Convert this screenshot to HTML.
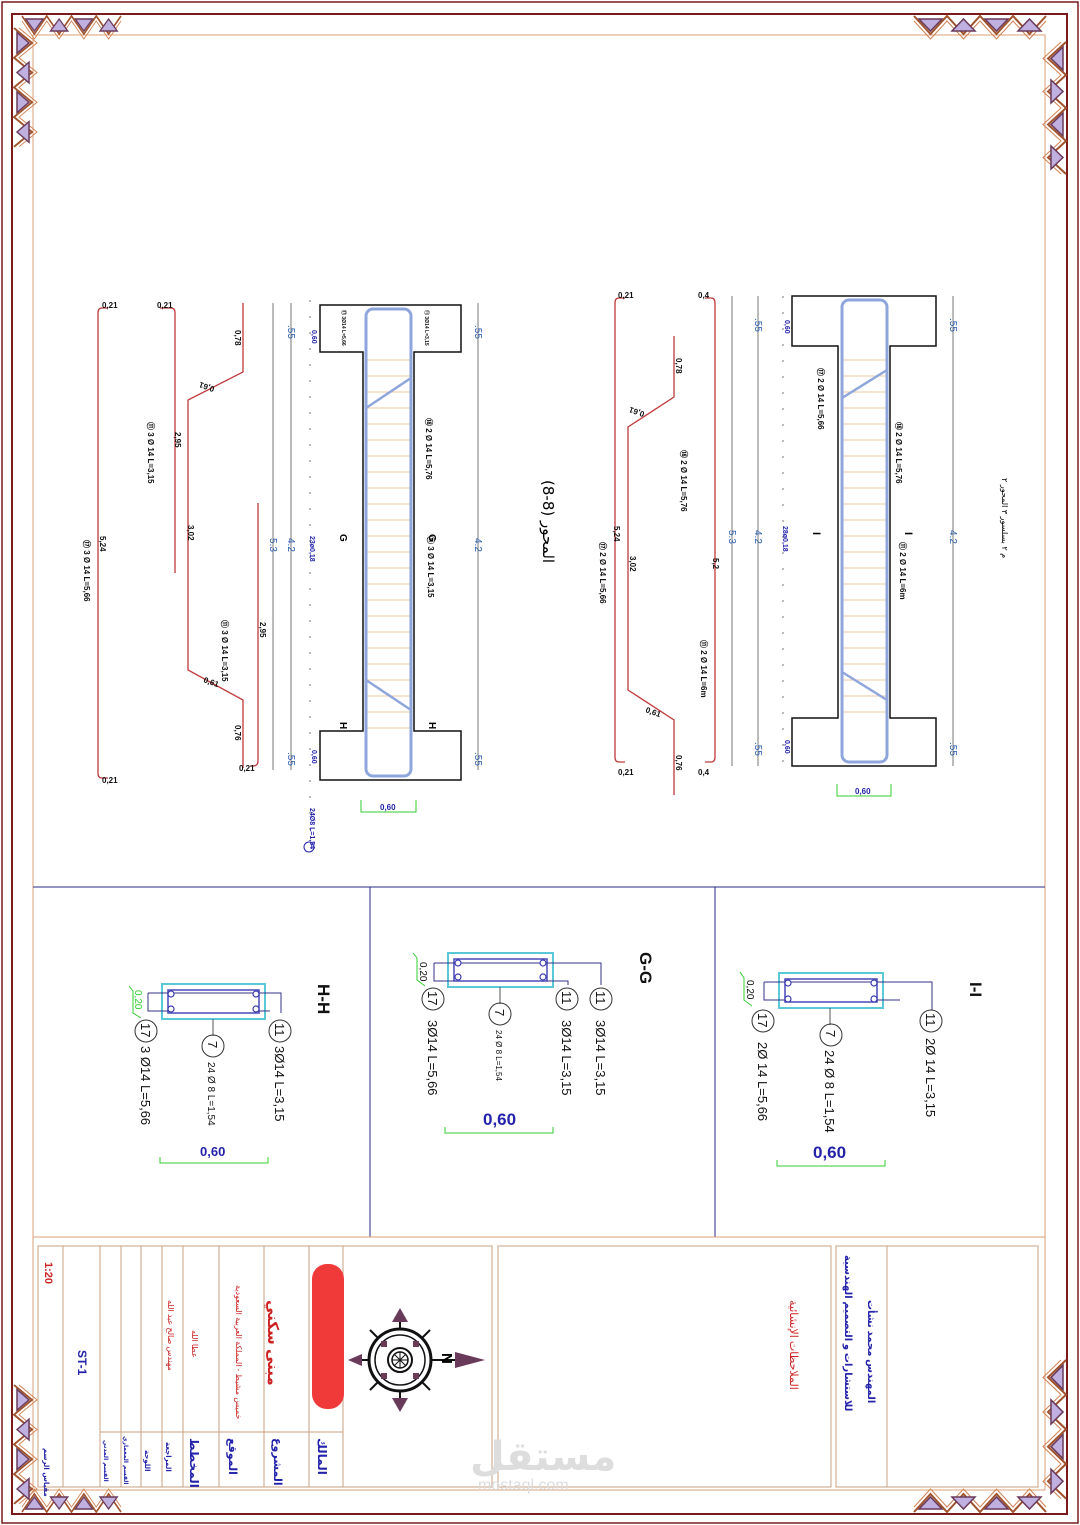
<!DOCTYPE html>
<html><head><meta charset="utf-8"><style>
html,body{margin:0;padding:0;background:#fff;}
svg{display:block;}
text{font-family:"Liberation Sans","DejaVu Sans",sans-serif;}
.ar{font-family:"DejaVu Sans","Liberation Sans",sans-serif;}
</style></head><body>
<svg width="1080" height="1525" viewBox="0 0 1080 1525" xmlns="http://www.w3.org/2000/svg">
<defs>
<pattern id="stir" width="60" height="16" patternUnits="userSpaceOnUse">
<line x1="0" y1="8" x2="60" y2="8" stroke="#e8c9a0" stroke-width="1"/>
</pattern>
<g id="hrow">
<polyline points="0,0 16.5,18 33,0 49.5,18 66,0 82.5,18 99,0 115.5,18 132,0" fill="none" stroke="#a0522d" stroke-width="2"/>
<polyline points="0,5 16.5,23 33,5 49.5,23 66,5 82.5,23 99,5 115.5,23 132,5" fill="none" stroke="#d08050" stroke-width="1"/>
<polygon points="5,3 28,3 16.5,15" fill="#c0b0e0" stroke="#6a3a5a" stroke-width="1.5"/>
<polygon points="38,15 61,15 49.5,3" fill="#c0b0e0" stroke="#6a3a5a" stroke-width="1.5"/>
<polygon points="71,3 94,3 82.5,15" fill="#c0b0e0" stroke="#6a3a5a" stroke-width="1.5"/>
<polygon points="104,15 127,15 115.5,3" fill="#c0b0e0" stroke="#6a3a5a" stroke-width="1.5"/>
</g>
</defs>
<!-- frame -->
<rect x="2" y="2" width="1076" height="1521" fill="none" stroke="#7a1a1a" stroke-width="1.5"/>
<rect x="12" y="14" width="1055" height="1500" fill="none" stroke="#7a1a1a" stroke-width="2"/>
<rect x="33" y="35" width="1012" height="1455" fill="none" stroke="#d9a27a" stroke-width="1"/>
<!-- ornaments -->
<use href="#hrow" transform="translate(22,16) scale(0.75,1)"/>
<use href="#hrow" transform="translate(914,16)"/>
<use href="#hrow" transform="translate(14,28) rotate(90) scale(0.9,-1)"/>
<use href="#hrow" transform="translate(1066,42) rotate(90) scale(1,1)"/>
<use href="#hrow" transform="translate(914,1512) scale(1,-1)"/>
<use href="#hrow" transform="translate(22,1512) scale(0.75,-1)"/>
<use href="#hrow" transform="translate(1066,1360) rotate(90) scale(1.05,1)"/>
<use href="#hrow" transform="translate(14,1385) rotate(90) scale(0.9,-1)"/>
<!-- dividers -->
<line x1="33" y1="887" x2="1045" y2="887" stroke="#2a2a8a" stroke-width="1"/>
<line x1="370" y1="887" x2="370" y2="1237" stroke="#2a2a8a" stroke-width="1"/>
<line x1="715" y1="887" x2="715" y2="1237" stroke="#2a2a8a" stroke-width="1"/>
<line x1="33" y1="1237" x2="1045" y2="1237" stroke="#d9a27a" stroke-width="1"/>

<!-- ===== Right beam ===== -->
<path d="M792 296H936V346H890V718H936V766H792V718H838V346H792Z" fill="none" stroke="#111" stroke-width="1.5"/>
<rect x="841" y="346" width="46" height="372" fill="url(#stir)"/>
<rect x="842" y="300" width="45" height="462" rx="7" fill="none" stroke="#8fa6dc" stroke-width="3"/>
<line x1="842" y1="398" x2="887" y2="370" stroke="#8fa6dc" stroke-width="2.5"/>
<line x1="842" y1="672" x2="887" y2="700" stroke="#8fa6dc" stroke-width="2.5"/>
<line x1="732" y1="296" x2="732" y2="766" stroke="#777" stroke-width="1"/>
<line x1="758" y1="296" x2="758" y2="766" stroke="#777" stroke-width="1"/>
<line x1="783" y1="296" x2="783" y2="766" stroke="#777" stroke-width="1" stroke-dasharray="2 14"/>
<line x1="953" y1="296" x2="953" y2="766" stroke="#777" stroke-width="1"/>
<g fill="#2a5db0" font-size="10">
<text transform="translate(755,318) rotate(90)">.55</text>
<text transform="translate(755,530) rotate(90)">4.2</text>
<text transform="translate(755,742) rotate(90)">.55</text>
<text transform="translate(729,530) rotate(90)">5.3</text>
<text transform="translate(950,318) rotate(90)">.55</text>
<text transform="translate(950,530) rotate(90)">4.2</text>
<text transform="translate(950,742) rotate(90)">.55</text>
</g>
<g fill="#22a" font-size="7" font-weight="bold">
<text transform="translate(785,320) rotate(90)">0,60</text>
<text transform="translate(785,740) rotate(90)">0,60</text>
<text transform="translate(783,526) rotate(90)">28ø0,18</text>
</g>
<path d="M837 784V796H891V784" fill="none" stroke="#3c3" stroke-width="1"/>
<text x="855" y="794" font-size="8" fill="#22a" font-weight="bold">0,60</text>
<g fill="none" stroke="#c0393b" stroke-width="1.3">
<path d="M625 298H619Q615 298 615 303V757Q615 762 619 762H625"/>
<path d="M674 336V397L628 427V690L674 720V795"/>
<path d="M705 298H711Q715 298 715 303V757Q715 762 711 762H705"/>
</g>
<g font-size="8" font-weight="bold" fill="#111">
<text x="618" y="298">0,21</text><text x="618" y="775">0,21</text>
<text x="698" y="298">0,4</text><text x="698" y="775">0,4</text>
<text transform="translate(676,358) rotate(90)">0,78</text>
<text transform="translate(676,755) rotate(90)">0,76</text>
<text transform="translate(645,412) rotate(200)">0,61</text>
<text transform="translate(645,712) rotate(20)">0,61</text>
<text transform="translate(614,526) rotate(90)">5,24</text>
<text transform="translate(630,556) rotate(90)">3,02</text>
<text transform="translate(713,558) rotate(90)">5,2</text>
<text transform="translate(600,542) rotate(90)">⑰ 2 Ø 14 L=5,66</text>
<text transform="translate(681,450) rotate(90)">⑱ 2 Ø 14 L=5,76</text>
<text transform="translate(701,640) rotate(90)">⑪ 2 Ø 14 L=6m</text>
<text transform="translate(818,368) rotate(90)">⑰ 2 Ø 14 L=5,66</text>
<text transform="translate(896,422) rotate(90)">⑱ 2 Ø 14 L=5,76</text>
<text transform="translate(900,542) rotate(90)">⑪ 2 Ø 14 L=6m</text>
</g>
<text transform="translate(813,532) rotate(90)" font-size="11" font-weight="bold">I</text>
<text transform="translate(905,532) rotate(90)" font-size="11" font-weight="bold">I</text>
<text transform="translate(543,480) rotate(90)" font-size="15" class="ar">المحور (8-8)</text>
<text transform="translate(1002,478) rotate(90)" font-size="8" class="ar">م ٢ بسلسور ٣ المحور ٢</text>

<!-- ===== Left beam ===== -->
<path d="M320 305H461V352H414V731H461V780H320V731H363V352H320Z" fill="none" stroke="#111" stroke-width="1.5"/>
<rect x="366" y="352" width="46" height="379" fill="url(#stir)"/>
<rect x="366" y="309" width="45" height="467" rx="7" fill="none" stroke="#8fa6dc" stroke-width="3"/>
<line x1="366" y1="408" x2="411" y2="378" stroke="#8fa6dc" stroke-width="2.5"/>
<line x1="366" y1="680" x2="411" y2="710" stroke="#8fa6dc" stroke-width="2.5"/>
<line x1="273" y1="303" x2="273" y2="770" stroke="#777" stroke-width="1"/>
<line x1="291" y1="303" x2="291" y2="770" stroke="#777" stroke-width="1"/>
<line x1="310" y1="300" x2="310" y2="840" stroke="#777" stroke-width="1" stroke-dasharray="2 14"/>
<line x1="478" y1="303" x2="478" y2="770" stroke="#777" stroke-width="1"/>
<g fill="#2a5db0" font-size="10">
<text transform="translate(288,325) rotate(90)">.55</text>
<text transform="translate(288,538) rotate(90)">4.2</text>
<text transform="translate(288,752) rotate(90)">.55</text>
<text transform="translate(270,538) rotate(90)">5.3</text>
<text transform="translate(475,325) rotate(90)">.55</text>
<text transform="translate(475,538) rotate(90)">4.2</text>
<text transform="translate(475,752) rotate(90)">.55</text>
</g>
<g fill="#22a" font-size="7" font-weight="bold">
<text transform="translate(312,330) rotate(90)">0,60</text>
<text transform="translate(312,750) rotate(90)">0,60</text>
<text transform="translate(310,536) rotate(90)">23ø0,18</text>
<text transform="translate(310,808) rotate(90)">24Ø8 L=1,54</text>
</g>
<circle cx="309" cy="847" r="5" fill="none" stroke="#22a"/>
<path d="M361 800V812H416V800" fill="none" stroke="#3c3" stroke-width="1"/>
<text x="380" y="810" font-size="8" fill="#22a" font-weight="bold">0,60</text>
<g fill="none" stroke="#c0393b" stroke-width="1.3">
<path d="M108 308H102Q98 308 98 313V773Q98 778 102 778H108"/>
<path d="M160 308H171Q175 308 175 313V573"/>
<path d="M243 303V372L188 400V670L243 700V768"/>
<path d="M258 503V761Q258 766 253 766H250"/>
</g>
<g font-size="8" font-weight="bold" fill="#111">
<text x="102" y="308">0,21</text><text x="102" y="783">0,21</text>
<text x="157" y="308">0,21</text><text x="239" y="771">0,21</text>
<text transform="translate(235,330) rotate(90)">0,78</text>
<text transform="translate(235,725) rotate(90)">0,76</text>
<text transform="translate(215,387) rotate(200)">0,61</text>
<text transform="translate(203,682) rotate(20)">0,61</text>
<text transform="translate(175,432) rotate(90)">2,95</text>
<text transform="translate(260,622) rotate(90)">2,95</text>
<text transform="translate(100,536) rotate(90)">5,24</text>
<text transform="translate(188,525) rotate(90)">3,02</text>
<text transform="translate(84,540) rotate(90)">⑰ 3 Ø 14 L=5,66</text>
<text transform="translate(148,422) rotate(90)">⑪ 3 Ø 14 L=3,15</text>
<text transform="translate(222,620) rotate(90)">⑪ 3 Ø 14 L=3,15</text>
<text transform="translate(426,418) rotate(90)">⑱ 2 Ø 14 L=5,76</text>
<text transform="translate(428,536) rotate(90)">⑪ 3 Ø 14 L=3,15</text>
<text transform="translate(342,310) rotate(90)" font-size="5">⑰ 3Ø14 L=5,66</text>
<text transform="translate(425,310) rotate(90)" font-size="5">⑪ 3Ø14 L=3,15</text>
</g>
<g font-size="10" font-weight="bold">
<text transform="translate(340,534) rotate(90)">G</text>
<text transform="translate(429,534) rotate(90)">G</text>
<text transform="translate(340,722) rotate(90)">H</text>
<text transform="translate(429,722) rotate(90)">H</text>
</g>

<!-- ===== Sections ===== -->
<g font-size="13" fill="#111">
<rect x="779" y="973" width="104" height="35" fill="none" stroke="#5bc8d8" stroke-width="2"/>
<rect x="785" y="979" width="92" height="23" fill="none" stroke="#4848b8" stroke-width="1.5"/>
<path d="M764 982H932V1010M764 982V1000H790M877 982H900M877 1000H900" fill="none" stroke="#33338a"/>
<g fill="#fff" stroke="#3a3ab0" stroke-width="1.2"><circle cx="788" cy="983" r="3"/><circle cx="788" cy="999" r="3"/><circle cx="874" cy="983" r="3"/><circle cx="874" cy="999" r="3"/></g>
<line x1="830" y1="1008" x2="830" y2="1025" stroke="#555"/>
<circle cx="831" cy="1035" r="11" fill="none" stroke="#333"/><text transform="translate(826,1030) rotate(90)">7</text>
<circle cx="763" cy="1021" r="11" fill="none" stroke="#333"/><text transform="translate(758,1013) rotate(90)">17</text>
<circle cx="931" cy="1021" r="11" fill="none" stroke="#333"/><text transform="translate(926,1013) rotate(90)">11</text>
<text transform="translate(758,1042) rotate(90)">2Ø  14 L=5,66</text>
<text transform="translate(825,1050) rotate(90)">24 Ø 8 L=1,54</text>
<text transform="translate(926,1038) rotate(90)">2Ø 14 L=3,15</text>
<text transform="translate(747,980) rotate(90)" font-size="10">0,20</text>
<path d="M740 972L744 978V1000L752 1006" fill="none" stroke="#3c3"/>
<text transform="translate(970,982) rotate(90)" font-size="17" font-weight="bold">I-I</text>
<path d="M777 1160V1166H885V1160" fill="none" stroke="#3c3"/>
<text x="813" y="1158" font-size="17" font-weight="bold" fill="#22a">0,60</text>

<rect x="448" y="953" width="105" height="34" fill="none" stroke="#5bc8d8" stroke-width="2"/>
<rect x="454" y="959" width="93" height="22" fill="none" stroke="#4848b8" stroke-width="1.5"/>
<path d="M434 963H601V985M434 963V981H454M547 963H568M547 981H568V985" fill="none" stroke="#33338a"/>
<g fill="#fff" stroke="#3a3ab0" stroke-width="1.2"><circle cx="458" cy="963" r="3"/><circle cx="458" cy="977" r="3"/><circle cx="543" cy="963" r="3"/><circle cx="543" cy="977" r="3"/></g>
<line x1="500" y1="987" x2="500" y2="1004" stroke="#555"/>
<circle cx="500" cy="1014" r="11" fill="none" stroke="#333"/><text transform="translate(495,1009) rotate(90)">7</text>
<circle cx="433" cy="999" r="11" fill="none" stroke="#333"/><text transform="translate(428,991) rotate(90)">17</text>
<circle cx="567" cy="999" r="11" fill="none" stroke="#333"/><text transform="translate(562,991) rotate(90)">11</text>
<circle cx="601" cy="999" r="11" fill="none" stroke="#333"/><text transform="translate(596,991) rotate(90)">11</text>
<text transform="translate(428,1020) rotate(90)">3Ø14 L=5,66</text>
<text transform="translate(496,1030) rotate(90)" font-size="8">24 Ø 8 L=1,54</text>
<text transform="translate(562,1020) rotate(90)">3Ø14 L=3,15</text>
<text transform="translate(596,1020) rotate(90)">3Ø14 L=3,15</text>
<text transform="translate(420,962) rotate(90)" font-size="10">0,20</text>
<path d="M413 953L417 958V980L425 986" fill="none" stroke="#3c3"/>
<text transform="translate(640,952) rotate(90)" font-size="17" font-weight="bold">G-G</text>
<path d="M445 1127V1133H553V1127" fill="none" stroke="#3c3"/>
<text x="483" y="1125" font-size="17" font-weight="bold" fill="#22a">0,60</text>

<rect x="162" y="984" width="103" height="35" fill="none" stroke="#5bc8d8" stroke-width="2"/>
<rect x="168" y="990" width="91" height="23" fill="none" stroke="#4848b8" stroke-width="1.5"/>
<path d="M148 993H281V1013M148 993V1011H168M259 993H281M259 1011H270" fill="none" stroke="#33338a"/>
<g fill="#fff" stroke="#3a3ab0" stroke-width="1.2"><circle cx="171" cy="994" r="3"/><circle cx="171" cy="1009" r="3"/><circle cx="256" cy="994" r="3"/><circle cx="256" cy="1009" r="3"/></g>
<line x1="213" y1="1019" x2="213" y2="1036" stroke="#555"/>
<circle cx="213" cy="1046" r="11" fill="none" stroke="#333"/><text transform="translate(208,1041) rotate(90)">7</text>
<circle cx="146" cy="1031" r="11" fill="none" stroke="#333"/><text transform="translate(141,1023) rotate(90)">17</text>
<circle cx="280" cy="1031" r="11" fill="none" stroke="#333"/><text transform="translate(275,1023) rotate(90)">11</text>
<text transform="translate(141,1046) rotate(90)">3 Ø14 L=5,66</text>
<text transform="translate(208,1062) rotate(90)" font-size="10">24 Ø 8 L=1,54</text>
<text transform="translate(275,1046) rotate(90)">3Ø14 L=3,15</text>
<text transform="translate(135,990) rotate(90)" font-size="10" fill="#3c3">0,20</text>
<path d="M129 986L133 991V1013L141 1018" fill="none" stroke="#3c3"/>
<text transform="translate(318,984) rotate(90)" font-size="17" font-weight="bold">H-H</text>
<path d="M160 1157V1163H268V1157" fill="none" stroke="#3c3"/>
<text x="200" y="1156" font-size="13" font-weight="bold" fill="#22a">0,60</text>
</g>

<!-- ===== Title block ===== -->
<g fill="none" stroke="#c8a080" stroke-width="1">
<rect x="38" y="1246" width="454" height="241"/>
<line x1="63" y1="1246" x2="63" y2="1487"/>
<line x1="100" y1="1246" x2="100" y2="1487"/>
<line x1="121" y1="1246" x2="121" y2="1487"/>
<line x1="141" y1="1246" x2="141" y2="1487"/>
<line x1="162" y1="1246" x2="162" y2="1487"/>
<line x1="183" y1="1246" x2="183" y2="1487"/>
<line x1="219" y1="1246" x2="219" y2="1487"/>
<line x1="264" y1="1246" x2="264" y2="1487"/>
<line x1="309" y1="1246" x2="309" y2="1487"/>
<line x1="343" y1="1246" x2="343" y2="1487"/>
<line x1="100" y1="1432" x2="343" y2="1432"/>
<rect x="498" y="1246" width="333" height="241"/>
<rect x="836" y="1246" width="202" height="241"/>
<line x1="887" y1="1246" x2="887" y2="1487"/>
</g>
<rect x="312" y="1264" width="32" height="145" rx="15" fill="#f03a3a"/>
<g fill="#22a" font-weight="bold">
<text transform="translate(45,1262) rotate(90)" font-size="11" fill="#c22">1:20</text>
<text transform="translate(78,1350) rotate(90)" font-size="12">ST-1</text>
<text transform="translate(44,1448) rotate(90)" font-size="7" class="ar">مقياس الرسم</text>
<text transform="translate(104,1440) rotate(90)" font-size="6" class="ar">القسم المدني</text>
<text transform="translate(124,1436) rotate(90)" font-size="6" class="ar">القسم المعماري</text>
<text transform="translate(145,1450) rotate(90)" font-size="7" class="ar">اللوحة</text>
<text transform="translate(166,1442) rotate(90)" font-size="7" class="ar">المراجعة</text>
<text transform="translate(190,1438) rotate(90)" font-size="12" class="ar">المخطط</text>
<text transform="translate(229,1438) rotate(90)" font-size="11" class="ar">الموقع</text>
<text transform="translate(274,1438) rotate(90)" font-size="11" class="ar">المشروع</text>
<text transform="translate(318,1438) rotate(90)" font-size="12" class="ar">المالك</text>
</g>
<g fill="#c22" class="ar">
<text transform="translate(168,1300) rotate(90)" font-size="8">مهندس صالح عبد الله</text>
<text transform="translate(192,1330) rotate(90)" font-size="8">عطا الله</text>
<text transform="translate(236,1285) rotate(90)" font-size="8">خميس مشيط - المملكة العربية السعودية</text>
<text transform="translate(268,1300) rotate(90)" font-size="15" font-weight="bold">مبنى سكني</text>
<text transform="translate(790,1300) rotate(90)" font-size="11">الملاحظات الإنشائية</text>
</g>
<g fill="#22a" class="ar" font-weight="bold" font-size="10">
<text transform="translate(845,1255) rotate(90)">للاستشارات و التصميم الهندسية</text>
<text transform="translate(868,1300) rotate(90)">المهندس محمد نشأت</text>
</g>
<g transform="translate(400,1360)">
<circle r="31" fill="none" stroke="#111" stroke-width="3"/>
<circle r="25" fill="none" stroke="#111" stroke-width="1.5"/>
<circle r="12" fill="none" stroke="#111" stroke-width="2"/>
<circle r="8" fill="none" stroke="#111" stroke-width="1.5"/>
<path d="M-8 0H8M0-8V8M-6-6L6 6M6-6L-6 6" stroke="#111"/>
<path d="M-45 0H-31M31 0H55M0-45V-31M0 31V45M-30-30L-22-22M30-30L22-22M-30 30L-22 22M30 30L22 22" stroke="#111" stroke-width="2"/>
<g fill="#6a3a5a"><path d="M-8-38L0-52L8-38Z"/><path d="M-8 38L0 52L8 38Z"/><path d="M-38-6L-52 0L-38 6Z"/>
<rect x="-19" y="-19" width="6" height="6"/><rect x="13" y="-19" width="6" height="6"/><rect x="-19" y="13" width="6" height="6"/><rect x="13" y="13" width="6" height="6"/></g>
<path d="M55-8L85 0L55 8Z" fill="#6a3a5a"/>
<text transform="translate(42,-7) rotate(90)" font-size="15" font-weight="bold">N</text>
</g>
<text x="470" y="1470" font-size="40" fill="#ddd" font-weight="bold" class="ar">مستقل</text>
<text x="478" y="1490" font-size="16" fill="#ddd">mostaql.com</text>
</svg>
</body></html>
